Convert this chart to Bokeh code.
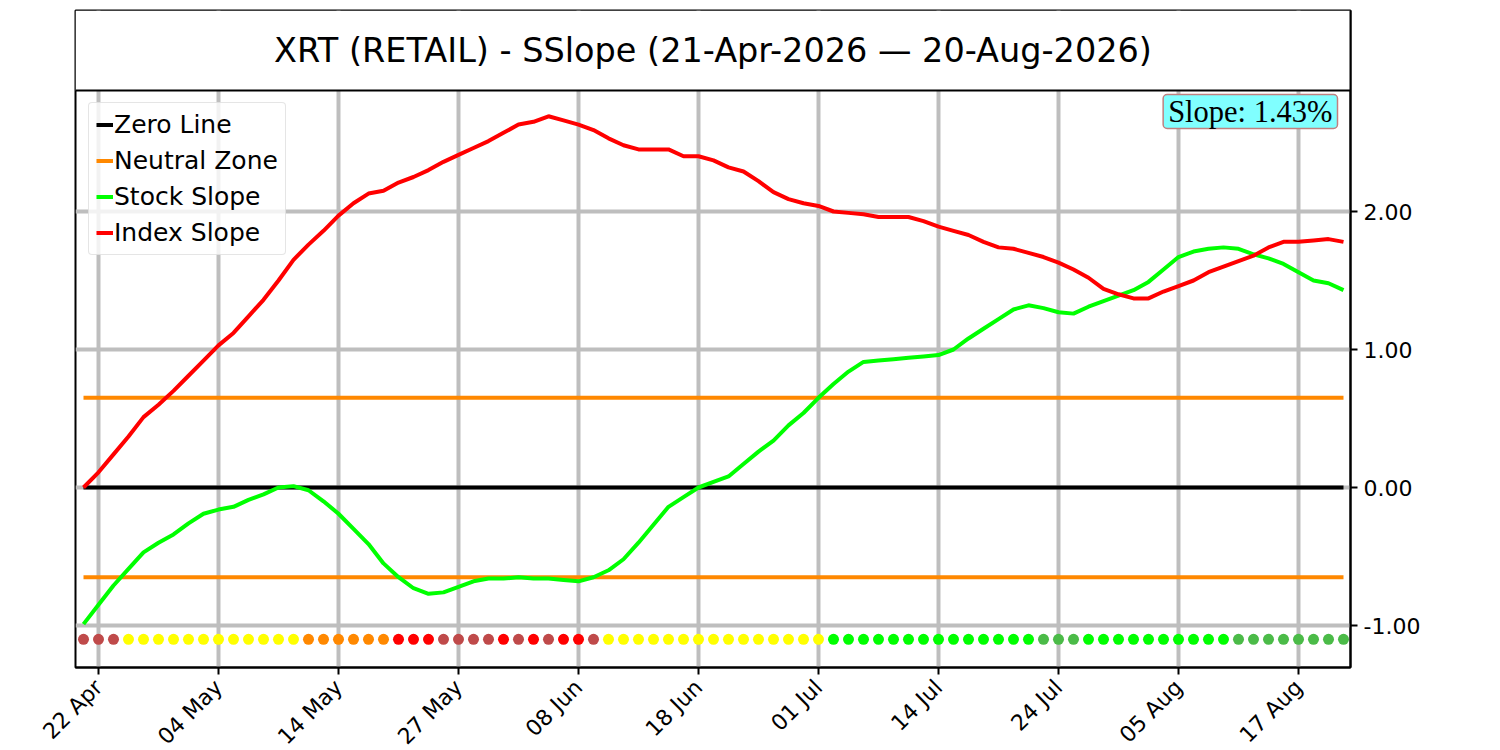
import math
from bokeh.plotting import figure
from bokeh.models import (Range1d, FixedTicker, Label, Legend, LegendItem, Span,
                          ColumnDataSource, NumeralTickFormatter)
from bokeh.embed import file_html
from bokeh.resources import INLINE

# ---------------- data ----------------
title_text = "XRT (RETAIL) - SSlope (21-Apr-2026 \u2014 20-Aug-2026)"
slope_text = "Slope: 1.43%"

stock_slope = [
    -0.99, -0.85, -0.71, -0.59, -0.47, -0.40, -0.34, -0.26, -0.19, -0.16,
    -0.14, -0.09, -0.05, 0.00, 0.01, -0.02, -0.10, -0.19, -0.30, -0.41,
    -0.55, -0.65, -0.73, -0.77, -0.76, -0.72, -0.68, -0.66, -0.66, -0.65,
    -0.66, -0.66, -0.67, -0.68, -0.65, -0.60, -0.52, -0.40, -0.27, -0.14,
    -0.07, 0.00, 0.04, 0.08, 0.17, 0.26, 0.34, 0.45, 0.54, 0.65,
    0.75, 0.84, 0.91, 0.92, 0.93, 0.94, 0.95, 0.96, 1.00, 1.08,
    1.15, 1.22, 1.29, 1.32, 1.30, 1.27, 1.26, 1.31, 1.35, 1.39,
    1.43, 1.49, 1.58, 1.67, 1.71, 1.73, 1.74, 1.73, 1.69, 1.66,
    1.62, 1.56, 1.50, 1.48, 1.43,
]

index_slope = [
    0.00, 0.11, 0.24, 0.37, 0.51, 0.60, 0.70, 0.81, 0.92, 1.03,
    1.12, 1.24, 1.36, 1.50, 1.65, 1.76, 1.86, 1.97, 2.06, 2.13,
    2.15, 2.21, 2.25, 2.30, 2.36, 2.41, 2.46, 2.51, 2.57, 2.63,
    2.65, 2.69, 2.66, 2.63, 2.59, 2.53, 2.48, 2.45, 2.45, 2.45,
    2.40, 2.40, 2.37, 2.32, 2.29, 2.22, 2.14, 2.09, 2.06, 2.04,
    2.00, 1.99, 1.98, 1.96, 1.96, 1.96, 1.93, 1.89, 1.86, 1.83,
    1.78, 1.74, 1.73, 1.70, 1.67, 1.63, 1.58, 1.52, 1.44, 1.40,
    1.37, 1.37, 1.42, 1.46, 1.50, 1.56, 1.60, 1.64, 1.68, 1.74,
    1.78, 1.78, 1.79, 1.80, 1.78,
]

dot_status = (
    ["weak"] * 3 + ["neutral"] * 12 + ["caution"] * 6 + ["bear"] * 3 +
    ["weak"] * 4 + ["bear", "weak", "bear", "weak", "bear", "bear", "weak"] +
    ["neutral"] * 15 + ["bull"] * 14 + ["fading"] * 3 + ["bull"] * 10 +
    ["fading"] * 8
)
status_colors = {
    "weak": "#BF4A4A",
    "neutral": "#FFFF00",
    "caution": "#FF8800",
    "bear": "#FF0000",
    "bull": "#00FF00",
    "fading": "#4BBB48",
}

tick_index = [1, 9, 17, 25, 33, 41, 49, 57, 65, 73, 81]
tick_labels = ["22 Apr", "04 May", "14 May", "27 May", "08 Jun", "18 Jun",
               "01 Jul", "14 Jul", "24 Jul", "05 Aug", "17 Aug"]
y_ticks = [-1.0, 0.0, 1.0, 2.0]
neutral_level = 0.65
dot_level = -1.1

# ---------------- figure ----------------
n = len(stock_slope)
xs = list(range(n))

FRAME_W, FRAME_H = 1275, 657
x_start, x_end = -8 / 15, (1267) / 15
y_start, y_end = -180 / 138, 477 / 138
title_bottom = 397 / 138

p = figure(frame_width=FRAME_W, frame_height=FRAME_H,
           x_range=Range1d(x_start, x_end), y_range=Range1d(y_start, y_end),
           y_axis_location="right", toolbar_location=None, output_backend="svg",
           min_border_left=75, min_border_right=125, min_border_top=10,
           min_border_bottom=70)
p.background_fill_color = "white"
p.border_fill_color = "white"
p.outline_line_color = "black"
p.outline_line_width = 2
p.outline_line_alpha = 1.0

# axes
xa = p.xaxis[0]
xa.ticker = FixedTicker(ticks=tick_index)
xa.major_label_overrides = {i: lab for i, lab in zip(tick_index, tick_labels)}
xa.major_label_orientation = math.pi / 4
ya = p.yaxis[0]
ya.ticker = FixedTicker(ticks=y_ticks)
ya.formatter = NumeralTickFormatter(format="0.00")
for ax in (xa, ya):
    ax.axis_line_color = "black"
    ax.axis_line_width = 2
    ax.major_tick_line_color = "black"
    ax.major_tick_line_width = 2
    ax.major_tick_out = 7
    ax.major_tick_in = 0
    ax.minor_tick_line_color = None
    ax.major_label_text_font = "DejaVu Sans"
    ax.major_label_text_font_size = "22px"
    ax.major_label_text_color = "black"
    ax.major_label_standoff = 6
xa.major_label_standoff = 9

p.xgrid.ticker = FixedTicker(ticks=tick_index)
p.ygrid.ticker = FixedTicker(ticks=y_ticks)
for g in (p.xgrid[0], p.ygrid[0]):
    g.grid_line_color = "#BEBEBE"
    g.grid_line_width = 4
    g.grid_line_alpha = 1.0

# reference lines
line_x = [xs[0], xs[-1]]
r_zero = p.line(line_x, [0, 0], line_color="black", line_width=4)
r_neu = p.line(line_x, [neutral_level, neutral_level], line_color="#FF8800", line_width=4)
p.line(line_x, [-neutral_level, -neutral_level], line_color="#FF8800", line_width=4)

src = ColumnDataSource(dict(x=xs, stock=stock_slope, index=index_slope,
                            dot_y=[dot_level] * n,
                            dot_color=[status_colors[s] for s in dot_status]))
r_stock = p.line("x", "stock", source=src, line_color="#00FF00", line_width=4)
r_index = p.line("x", "index", source=src, line_color="#FF0000", line_width=4)
p.scatter("x", "dot_y", source=src, size=11, fill_color="dot_color",
          line_color=None)

# title box (top strip of the frame)
p.quad(left=[x_start], right=[x_end], bottom=[title_bottom], top=[y_end],
       fill_color="white", line_color=None)
p.add_layout(Span(location=title_bottom, dimension="width",
                  line_color="black", line_width=2))
p.add_layout(Label(x=FRAME_W / 2, y=617, x_units="screen", y_units="screen",
                   text=title_text, text_font="DejaVu Sans",
                   text_font_size="33.5px", text_color="black",
                   text_align="center", text_baseline="middle"))

# slope box
slope_lbl = Label(x=1262, y=556, x_units="screen", y_units="screen",
                  text=slope_text, text_font="Liberation Serif",
                  text_font_size="30.5px", text_color="black",
                  text_align="right", text_baseline="middle",
                  background_fill_color="#80FFFF", background_fill_alpha=1.0,
                  border_line_color="#C08080", border_line_width=1.5)
props = Label.properties()
if "padding" in props:
    try:
        slope_lbl.padding = dict(left=5, right=5, top=0, bottom=0)
    except Exception:
        slope_lbl.padding = 2
if "border_radius" in props:
    slope_lbl.border_radius = 4
p.add_layout(slope_lbl)

# legend
legend = Legend(items=[
    LegendItem(label="Zero Line", renderers=[r_zero]),
    LegendItem(label="Neutral Zone", renderers=[r_neu]),
    LegendItem(label="Stock Slope", renderers=[r_stock]),
    LegendItem(label="Index Slope", renderers=[r_index]),
], location=(13, 412))
legend.label_text_font = "DejaVu Sans"
legend.label_text_font_size = "25px"
legend.label_text_color = "black"
legend.glyph_width = 17
legend.glyph_height = 29
legend.label_height = 29
legend.label_standoff = 1
legend.spacing = 7
legend.padding = 7
legend.margin = 0
legend.border_line_color = "#CCCCCC"
legend.border_line_width = 1.5
legend.background_fill_color = "white"
legend.background_fill_alpha = 0.8
if "border_radius" in Legend.properties():
    legend.border_radius = 4
p.add_layout(legend)

open("out.html", "w").write(file_html(p, INLINE))
